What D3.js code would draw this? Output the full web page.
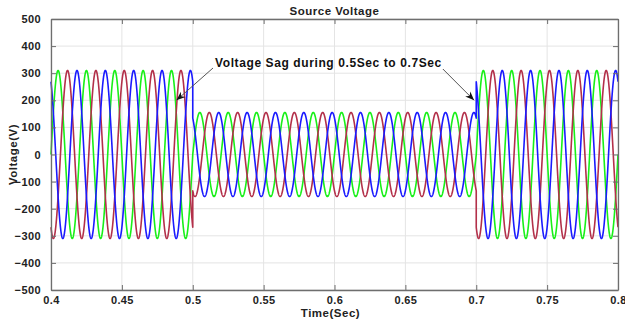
<!DOCTYPE html>
<html>
<head>
<meta charset="utf-8">
<script src="https://cdn.jsdelivr.net/npm/d3@7/dist/d3.min.js"></script>
<style>
  html, body { margin: 0; padding: 0; background: #ffffff; }
  svg { display: block; font-family: "Liberation Sans", Arial, sans-serif; }
</style>
</head>
<body>
<svg id="chart" width="625" height="324"></svg>
<script>
// Three-phase source voltage with a sag between 0.5 s and 0.7 s
const phaseNames = ["Va", "Vb", "Vc"];
const phaseShiftDeg = [0, -120, 120];
const phaseColors = ["#18f018", "#b3304a", "#1a1aff"];
const frequencyHz = 50;

// Operating intervals: start time, end time, peak voltage
const segmentStart = [0.4, 0.5, 0.7];
const segmentEnd = [0.5, 0.7, 0.8];
const segmentPeak = [310, 155, 310];

const xTicks = [0.4, 0.45, 0.5, 0.55, 0.6, 0.65, 0.7, 0.75, 0.8];
const yTicks = [-500, -400, -300, -200, -100, 0, 100, 200, 300, 400, 500];

const titleText = "Source Voltage";
const xLabel = "Time(Sec)";
const yLabel = "Voltage(V)";
const noteText = "Voltage Sag during 0.5Sec to 0.7Sec";
const noteArrowTargets = [[0.4885, 200], [0.6985, 200]];

const margin = { left: 51, right: 7, top: 19, bottom: 34 };
const W = 625, H = 324;
const iw = W - margin.left - margin.right;
const ih = H - margin.top - margin.bottom;

const svg = d3.select("#chart");
const g = svg.append("g").attr("transform", `translate(${margin.left},${margin.top})`);

const x = d3.scaleLinear().domain([0.4, 0.8]).range([0, iw]);
const y = d3.scaleLinear().domain([-500, 500]).range([ih, 0]);

// grid
g.append("g").selectAll("line").data(xTicks).join("line")
  .attr("x1", d => x(d)).attr("x2", d => x(d)).attr("y1", 0).attr("y2", ih)
  .attr("stroke", "#e4e4e4").attr("stroke-width", 1);
g.append("g").selectAll("line").data(yTicks).join("line")
  .attr("x1", 0).attr("x2", iw).attr("y1", d => y(d)).attr("y2", d => y(d))
  .attr("stroke", "#e4e4e4").attr("stroke-width", 1);

// waveforms, sampled per interval so each interval boundary is a step
const dt = 0.0001;
const traces = phaseNames.map((name, p) => {
  const pts = [];
  segmentStart.forEach((t0, s) => {
    const t1 = segmentEnd[s];
    const n = Math.round((t1 - t0) / dt);
    for (let i = 0; i <= n; i++) {
      const t = t0 + i * dt;
      const ang = 2 * Math.PI * frequencyHz * t + phaseShiftDeg[p] * Math.PI / 180;
      pts.push([t, segmentPeak[s] * Math.sin(ang)]);
    }
  });
  return { name, color: phaseColors[p], pts };
});

const line = d3.line().x(d => x(d[0])).y(d => y(d[1]));
g.append("g").selectAll("path").data(traces).join("path")
  .attr("d", d => line(d.pts))
  .attr("fill", "none")
  .attr("stroke", d => d.color)
  .attr("stroke-width", 1.6)
  .attr("stroke-linejoin", "round");

// axes (box with inward ticks)
const axisColor = "#6e6e6e";
const tickFont = g => g.selectAll("text")
  .attr("font-size", "11px").attr("font-weight", "bold").attr("fill", "#222")
  .attr("letter-spacing", "0.4px");

const xAxis = g.append("g").attr("transform", `translate(0,${ih})`)
  .call(d3.axisBottom(x).tickValues(xTicks).tickFormat(d3.format("")).tickSizeInner(-5).tickSizeOuter(0).tickPadding(6));
const xAxisTop = g.append("g")
  .call(d3.axisTop(x).tickValues(xTicks).tickFormat("").tickSizeInner(-5).tickSizeOuter(0));
const yAxis = g.append("g")
  .call(d3.axisLeft(y).tickValues(yTicks).tickFormat(d3.format("")).tickSizeInner(-5).tickSizeOuter(0).tickPadding(10));
const yAxisRight = g.append("g").attr("transform", `translate(${iw},0)`)
  .call(d3.axisRight(y).tickValues(yTicks).tickFormat("").tickSizeInner(-5).tickSizeOuter(0));
[xAxis, xAxisTop, yAxis, yAxisRight].forEach(a => {
  a.select(".domain").attr("stroke", axisColor).attr("stroke-width", 1.3);
  a.selectAll(".tick line").attr("stroke", axisColor);
  a.call(tickFont);
});

// titles
const labelStyle = t => t.attr("font-size", "11.5px").attr("font-weight", "bold")
  .attr("fill", "#222").attr("letter-spacing", "0.5px").attr("text-anchor", "middle");
svg.append("text").attr("x", margin.left + iw / 2).attr("y", 15)
  .call(labelStyle).text(titleText);
svg.append("text").attr("x", margin.left + iw / 2 - 4).attr("y", 317)
  .call(labelStyle).text(xLabel);
svg.append("text").attr("transform", `translate(17,${margin.top + ih / 2}) rotate(-90)`)
  .call(labelStyle).text(yLabel);

// annotation with arrows
svg.append("defs").append("marker")
  .attr("id", "head").attr("viewBox", "0 0 10 10").attr("refX", 10).attr("refY", 5)
  .attr("markerWidth", 9).attr("markerHeight", 9).attr("orient", "auto")
  .attr("markerUnits", "userSpaceOnUse")
  .append("path").attr("d", "M0,1 L10,5 L0,9 L3,5 Z").attr("fill", "#111");

const noteX = 215, noteY = 67;
const note = svg.append("text").attr("x", noteX).attr("y", noteY)
  .attr("font-size", "12px").attr("font-weight", "bold").attr("fill", "#111")
  .attr("letter-spacing", "0.6px")
  .text(noteText);
const noteW = note.node().getComputedTextLength();
const starts = [[noteX - 2, noteY + 1], [noteX + noteW + 1, noteY + 2]];
noteArrowTargets.forEach((tg, i) => {
  svg.append("line")
    .attr("x1", starts[i][0]).attr("y1", starts[i][1])
    .attr("x2", margin.left + x(tg[0])).attr("y2", margin.top + y(tg[1]))
    .attr("stroke", "#555").attr("stroke-width", 1)
    .attr("marker-end", "url(#head)");
});
</script>
</body>
</html>
